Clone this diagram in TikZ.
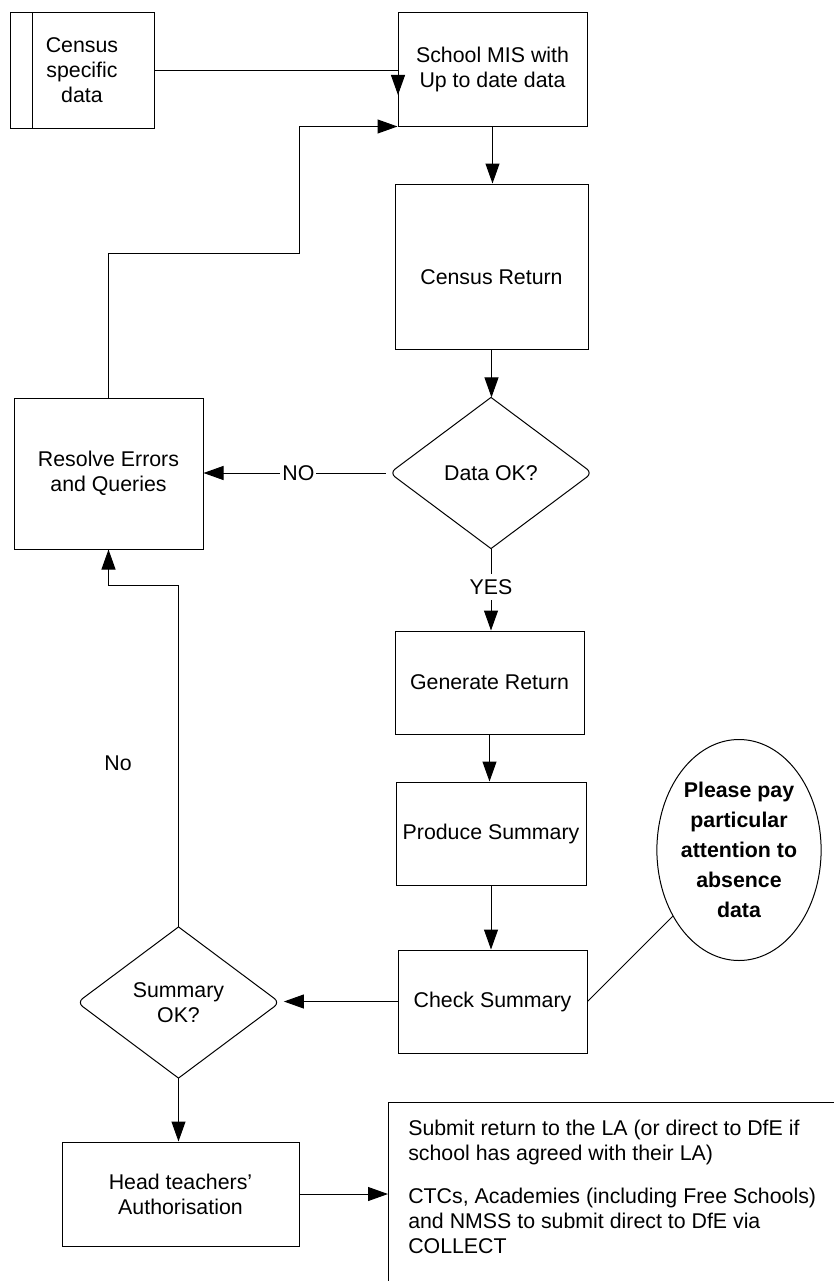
\documentclass[tikz,border=0pt]{standalone}
\usepackage{fontspec}
\setmainfont{Liberation Sans}
\usetikzlibrary{arrows.meta,shapes.geometric}
\begin{document}
\begin{tikzpicture}[x=0.75pt,y=-0.75pt,
  every node/.style={font=\fontsize{16}{18.75}\selectfont},
  box/.style={draw, line width=0.75pt, inner sep=0pt, align=center},
  dia/.style={diamond, inner sep=0pt, align=center, minimum width=151.5pt, minimum height=113pt},
  arr/.style={-{Triangle[length=15pt,width=10.5pt]}, line width=0.75pt},
  ln/.style={line width=0.75pt},
  lbl/.style={fill=white, inner xsep=1.5pt, inner ysep=4pt}]
\useasboundingbox (0,0) rectangle (834,1281);
\clip (0,0) rectangle (834,1281);

% nodes
\node[box, minimum width=108pt, minimum height=86.25pt] (census) at (82,70.5) {Census\\specific\\data};
\draw[ln] ([xshift=17.25pt]census.north west) -- ([xshift=17.25pt]census.south west);
\node[box, minimum width=141.75pt, minimum height=84.75pt] (mis) at (492.5,69.5) {School MIS with\\Up to date data};
\node[box, minimum width=144.75pt, minimum height=123.75pt] (cret) at (491.5,266.5) {\raisebox{-13.5pt}[0pt][0pt]{Census Return}};
\node[dia] (dok) at (491,473) {Data OK?};
\draw[ln] (dok.north) [rounded corners=5pt] -- (dok.east) [sharp corners] -- (dok.south) [rounded corners=5pt] -- (dok.west) [sharp corners] -- cycle;
\node[box, minimum width=141.75pt, minimum height=113.25pt] (resolve) at (108.5,473.5) {Resolve Errors\\and Queries};
\node[box, minimum width=141.75pt, minimum height=77.25pt] (gen) at (489.5,682.5) {Generate Return};
\node[box, minimum width=142.5pt, minimum height=77.25pt] (prod) at (491,833.5) {Produce Summary};
\node[box, minimum width=141.75pt, minimum height=77.25pt] (check) at (492.5,1001.5) {Check Summary};
\node[dia] (sok) at (178.5,1002.5) {Summary\\OK?};
\draw[ln] (sok.north) [rounded corners=5pt] -- (sok.east) [sharp corners] -- (sok.south) [rounded corners=5pt] -- (sok.west) [sharp corners] -- cycle;
\node[box, minimum width=177.75pt, minimum height=78pt] (head) at (180.5,1194) {Head teachers’\\Authorisation};
\node[ellipse, draw, line width=0.75pt, inner sep=0pt, minimum width=114pt, minimum height=165.75pt, align=center,
      font=\bfseries\fontsize{16}{22.5}\selectfont] (ell) at (739,850) {Please pay\\particular\\attention to\\absence\\data};
\node[draw, line width=0.75pt, anchor=north west, minimum width=600pt, minimum height=300pt] (submit) at (388,1102) {};
\node[anchor=north west, inner sep=0pt, align=left] (subtext) at (408,1120)
  {Submit return to the LA (or direct to DfE if\\school has agreed with their LA)\\[13.5pt]CTCs, Academies (including Free Schools)\\and NMSS to submit direct to DfE via\\COLLECT};

% helper coordinates
\coordinate (misin) at (398,95);
\coordinate (loopA) at (299,253);
\coordinate (rj) at (108.5,585);

% connectors
\draw[arr] (census.east) -| (misin);
\draw[arr] (resolve.north) |- (loopA) |- (mis.south west);
\draw[arr] (mis.south) -- (mis.south |- cret.north);
\draw[arr] (cret.south) -- (cret.south |- dok.north);
\draw[arr, shorten <=3.1pt] (dok.west) -- node[lbl, pos=0.49] (nolab) {NO} (dok.west -| resolve.east);
\draw[arr] (dok.south) -- node[lbl, pos=0.47] (yeslab) {YES} (dok.south |- gen.north);
\draw[arr] (gen.south) -- (gen.south |- prod.north);
\draw[arr] (prod.south) -- (prod.south |- check.north);
\draw[arr, shorten >=3.1pt] (check.west) -- (check.west -| sok.east);
\draw[ln] (check.east) -- (ell.225);
\draw[arr] (sok.north) |- (rj) -- (resolve.south);
\node (nolbl) at (118,763) {No};
\draw[arr] (sok.south) -- (sok.south |- head.north);
\draw[arr] (head.east) -- (head.east -| submit.west);
\end{tikzpicture}
\end{document}
